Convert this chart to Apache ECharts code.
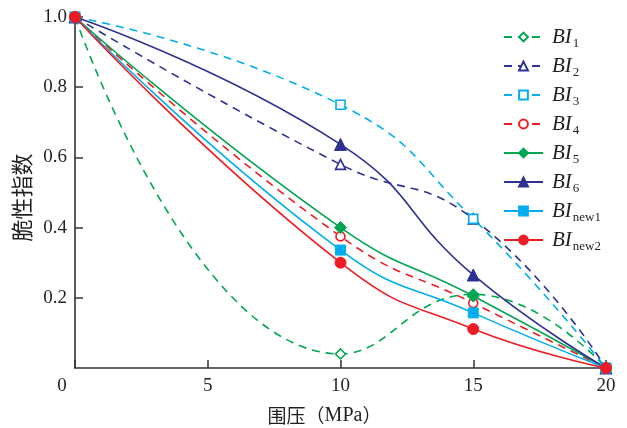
<!DOCTYPE html>
<html>
<head>
<meta charset="utf-8">
<script src="https://cdn.jsdelivr.net/npm/echarts@6/dist/echarts.min.js"></script>
<style>
  html, body { margin: 0; padding: 0; background: #fff; }
  #chart { width: 627px; height: 428px; }
</style>
</head>
<body>
<div id="chart"></div>
<script>
// Confining pressure (MPa) at which each brittleness index was evaluated
const pressure = [0, 10, 15, 20];

// Brittleness index values per method
const bi1 = [1.0, 0.04, 0.21, 0.0];
const bi2 = [1.0, 0.58, 0.425, 0.0];
const bi3 = [1.0, 0.75, 0.425, 0.0];
const bi4 = [1.0, 0.375, 0.185, 0.0];
const bi5 = [1.0, 0.40, 0.205, 0.0];
const bi6 = [1.0, 0.637, 0.265, 0.0];
const biNew1 = [1.0, 0.336, 0.157, 0.0];
const biNew2 = [1.0, 0.30, 0.111, 0.0];

// Legend names: main symbol + subscript
const seriesNames = ['BI|1', 'BI|2', 'BI|3', 'BI|4', 'BI|5', 'BI|6', 'BI|new1', 'BI|new2'];

const xTicks = [0, 5, 10, 15, 20];
const yTicks = [0.2, 0.4, 0.6, 0.8, 1.0];

const GREEN = '#00a651', NAVY = '#2e3192', SKY = '#00aeef', RED = '#ed1c24';
const INK = '#231f20';

function pairs(vals) { return pressure.map((p, i) => [p, vals[i]]); }

function makeSeries(idx, vals, color, dashed, symbol, filled, size) {
  return {
    name: seriesNames[idx],
    type: 'line',
    data: pairs(vals),
    smooth: 0.5,
    symbol: symbol,
    symbolSize: size,
    showAllSymbol: true,
    lineStyle: { color: color, width: 1.6, type: dashed ? [8, 6] : 'solid' },
    itemStyle: filled
      ? { color: color, borderColor: color, borderWidth: 1 }
      : { color: '#fff', borderColor: color, borderWidth: 1.6 },
    emphasis: { disabled: true },
    z: 2 + idx
  };
}

const series = [
  makeSeries(0, bi1, GREEN, true, 'diamond', false, 10),
  makeSeries(1, bi2, NAVY, true, 'triangle', false, 10),
  makeSeries(2, bi3, SKY, true, 'rect', false, 9),
  makeSeries(3, bi4, RED, true, 'circle', false, 9),
  makeSeries(4, bi5, GREEN, false, 'diamond', true, 12),
  makeSeries(5, bi6, NAVY, false, 'triangle', true, 12),
  makeSeries(6, biNew1, SKY, false, 'rect', true, 10),
  makeSeries(7, biNew2, RED, false, 'circle', true, 11)
];

const serif = '"Liberation Serif", "DejaVu Serif", serif';
const cjk = '"Noto Sans CJK SC", sans-serif';

const chart = echarts.init(document.getElementById('chart'), null, { renderer: 'canvas' });
chart.setOption({
  animation: false,
  backgroundColor: '#fff',
  grid: { left: 75, right: 21, top: 17, bottom: 60, containLabel: false, outerBoundsMode: 'none' },
  legend: {
    orient: 'vertical',
    left: 503,
    top: 24,
    padding: 0,
    itemWidth: 39,
    itemHeight: 11,
    itemGap: 3,
    data: seriesNames,
    formatter: function (name) {
      const parts = name.split('|');
      return '{m|' + parts[0] + '}{s|' + parts[1] + '}';
    },
    textStyle: {
      padding: [0, 0, 0, 4],
      rich: {
        m: { fontFamily: serif, fontStyle: 'italic', fontSize: 21, color: INK, lineHeight: 22 },
        s: { fontFamily: serif, fontSize: 13, color: INK, padding: [13, 0, 0, 1], lineHeight: 22 }
      }
    }
  },
  xAxis: {
    type: 'value',
    min: 0,
    max: 20,
    interval: 5,
    name: '{c|围压（}{l|MPa}{c|）}',
    nameLocation: 'middle',
    nameGap: 38,
    nameTextStyle: {
      padding: [0, 32, 0, 0],
      rich: {
        c: { fontFamily: cjk, fontSize: 19, color: INK },
        l: { fontFamily: serif, fontSize: 20, color: INK }
      }
    },
    axisLine: { show: true, lineStyle: { color: '#333', width: 1.6 } },
    axisTick: { show: true, inside: true, length: 8, lineStyle: { color: '#333', width: 1.5 } },
    splitLine: { show: false },
    axisLabel: {
      margin: 9,
      fontFamily: serif,
      fontSize: 19,
      color: INK,
      formatter: function (v) {
        return v === 0 ? '{z|0}' : String(v);
      },
      rich: { z: { fontFamily: serif, fontSize: 19, color: INK, padding: [0, 26, 0, 0] } }
    }
  },
  yAxis: {
    type: 'value',
    min: 0,
    max: 1,
    interval: 0.2,
    name: '脆性指数',
    nameLocation: 'middle',
    nameGap: 40,
    nameRotate: 90,
    nameTextStyle: { fontFamily: cjk, fontSize: 22, color: INK, padding: [0, 10, 0, 0] },
    axisLine: { show: true, lineStyle: { color: '#333', width: 1.6 } },
    axisTick: { show: true, inside: true, length: 8, lineStyle: { color: '#333', width: 1.5 } },
    splitLine: { show: false },
    axisLabel: {
      showMinLabel: false,
      margin: 8,
      fontFamily: serif,
      fontSize: 19,
      color: INK,
      formatter: function (v) { return v === 0 ? '' : v.toFixed(1); }
    }
  },
  series: series
});
</script>
</body>
</html>
